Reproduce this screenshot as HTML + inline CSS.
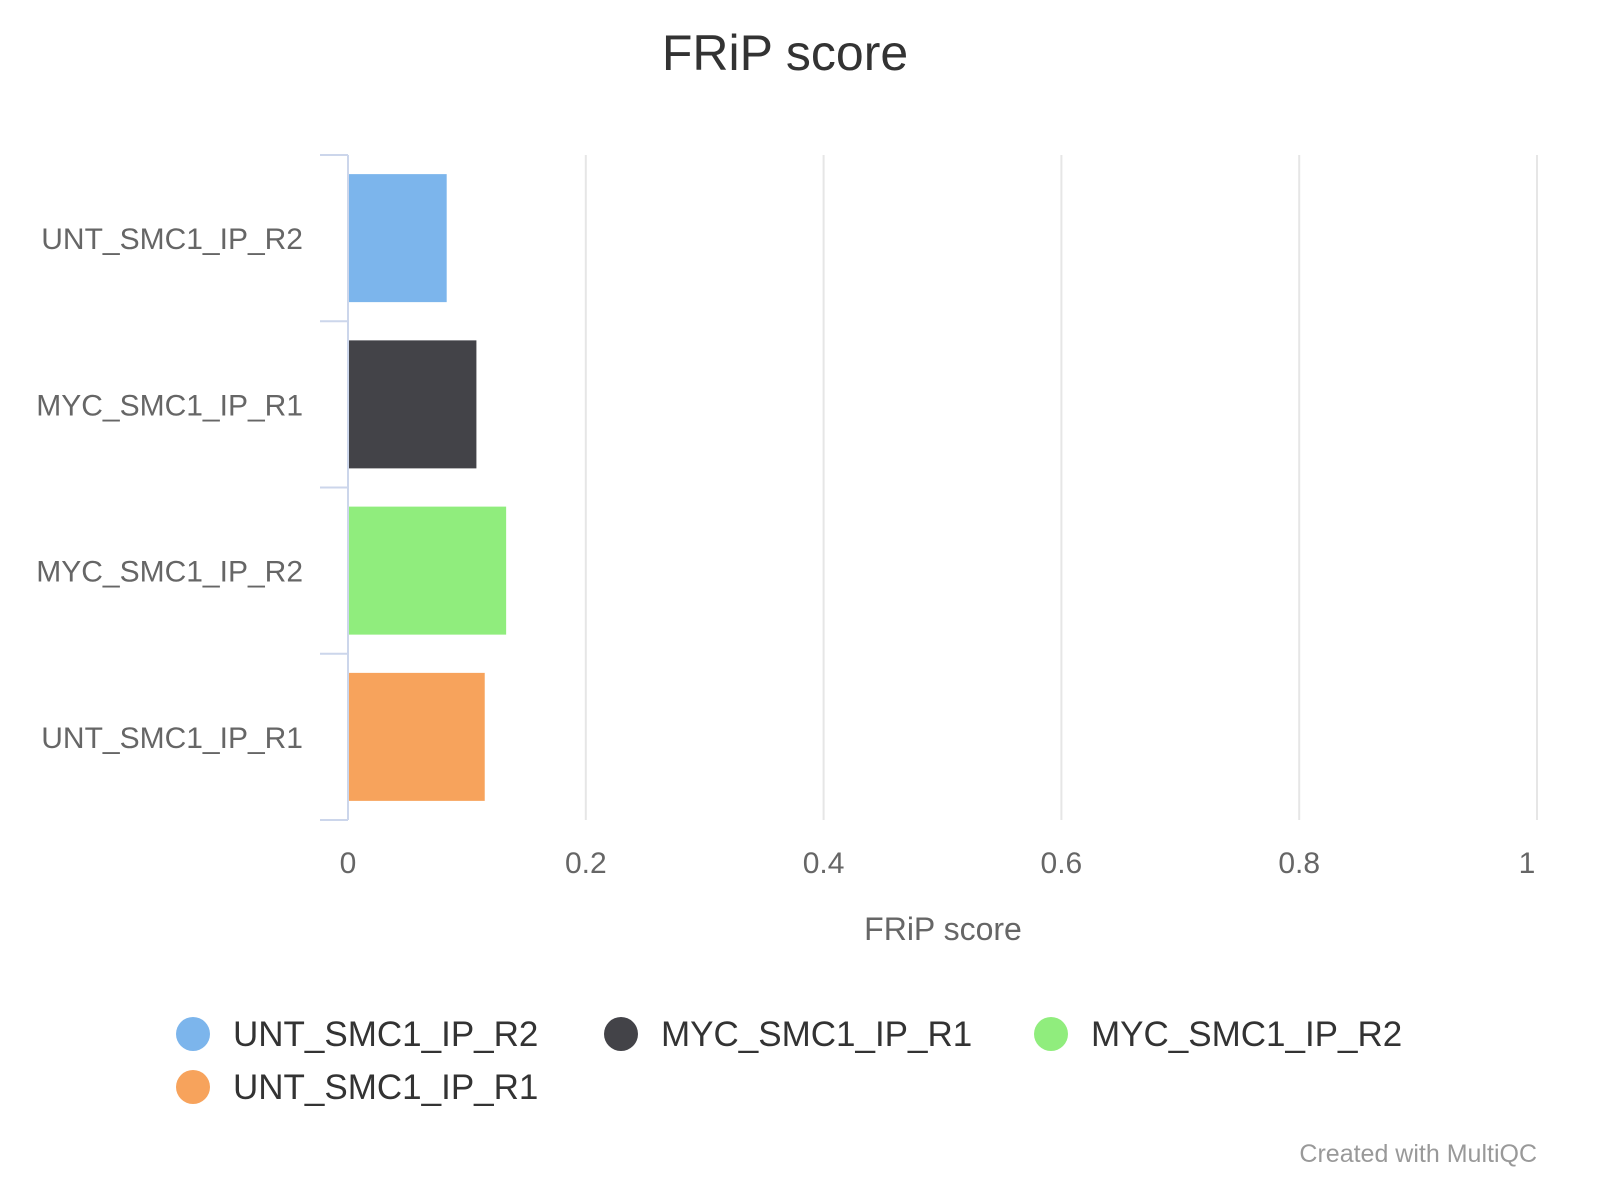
<!DOCTYPE html>
<html><head><meta charset="utf-8">
<style>
html,body{margin:0;padding:0;background:#fff;}
svg{display:block;font-family:"Liberation Sans","DejaVu Sans",sans-serif;}
</style></head>
<body>
<svg id="chart" width="1599" height="1200" viewBox="0 0 1599 1200">
<text x="785" y="70" text-anchor="middle" font-size="50" fill="#333">FRiP score</text>
<g id="grid"></g>
<g id="bars"></g>
<g id="ylabels"></g>
<g id="xlabels"></g>
<text x="943" y="940" text-anchor="middle" font-size="32" fill="#666">FRiP score</text>
<g id="legend"></g>
<text x="1537" y="1162" text-anchor="end" font-size="25" fill="#999">Created with MultiQC</text>
</svg>
<script>
const categories = ["UNT_SMC1_IP_R2","MYC_SMC1_IP_R1","MYC_SMC1_IP_R2","UNT_SMC1_IP_R1"];
const values = [0.083, 0.108, 0.133, 0.115];
const colors = ["#7cb5ec","#434348","#90ed7d","#f7a35c"];
const xTicks = [0, 0.2, 0.4, 0.6, 0.8, 1];
const xTickLabels = ["0","0.2","0.4","0.6","0.8","1"];

const NS = "http://www.w3.org/2000/svg";
const x0 = 348, x1 = 1537, yTop = 155, yBot = 820;
const xs = v => x0 + v * (x1 - x0);
const band = (yBot - yTop) / categories.length;
const yb = i => yTop + i * band;
function mk(tag, attrs, parent){ const e = document.createElementNS(NS, tag); for (const k in attrs) e.setAttribute(k, attrs[k]); parent.appendChild(e); return e; }

const grid = document.getElementById("grid");
xTicks.forEach((t, i) => {
  if (i > 0) {
    const l = mk("line", {x1: xs(t), x2: xs(t), y1: yTop, y2: yBot, stroke: "#e6e6e6", "stroke-width": 2}, grid);
    
    
  }
  const tx = mk("text", {x: xs(t) + (i === xTicks.length - 1 ? -10 : 0), y: 873, "text-anchor": "middle", "font-size": 30, fill: "#666"}, document.getElementById("xlabels"));
  tx.textContent = xTickLabels[i];
  
  
});
const ax = mk("line", {x1: x0, x2: x0, y1: yTop, y2: yBot, stroke: "#ccd6eb", "stroke-width": 2}, grid);


for (let i = 0; i <= categories.length; i++) {
  const t = mk("line", {x1: 320, x2: x0, y1: yb(i), y2: yb(i), stroke: "#ccd6eb", "stroke-width": 2}, grid);
  
  
}

const bars = document.getElementById("bars");
const yl = document.getElementById("ylabels");
categories.forEach((c, i) => {
  const pad = band * 0.115;
  const r = mk("rect", {x: x0 + 1, y: yb(i) + pad, width: xs(values[i]) - x0 - 1, height: band - 2 * pad, fill: colors[i]}, bars);
  
  
  const t = mk("text", {x: 303, y: yb(i) + band / 2 + 11, "text-anchor": "end", "font-size": 30, fill: "#666"}, yl);
  t.textContent = c;
  
  
});

const lg = document.getElementById("legend");
const legendPos = [[193, 1034], [621, 1034], [1051, 1034], [193, 1087]];
categories.forEach((c, i) => {
  const g = mk("g", {}, lg);
  
  
  mk("circle", {cx: legendPos[i][0], cy: legendPos[i][1], r: 17, fill: colors[i]}, g);
  const t = mk("text", {x: legendPos[i][0] + 40, y: legendPos[i][1] + 12, "font-size": 35, fill: "#333"}, g);
  t.textContent = c;
});
</script>
</body></html>
